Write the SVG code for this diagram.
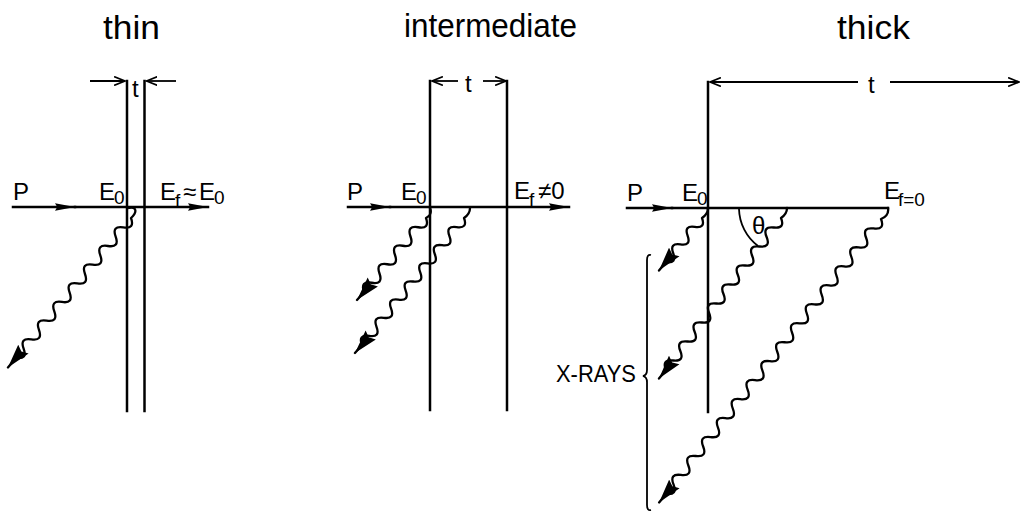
<svg xmlns="http://www.w3.org/2000/svg" width="1021" height="513" viewBox="0 0 1021 513">
<style>
.bg{fill:#fff}
.ln{stroke:#000;stroke-width:2.5;fill:none;stroke-linecap:square}
.dim{stroke:#000;stroke-width:1.8;fill:none}
.wv{stroke:#000;stroke-width:2.3;fill:none;stroke-linecap:round;stroke-linejoin:round}
.ttl{font-family:"Liberation Sans Narrow","Liberation Sans",Arial,sans-serif;font-size:34px;fill:#000}
.lb{font-family:"Liberation Sans Narrow","Liberation Sans",Arial,sans-serif;font-size:24px;fill:#000}
.sb{font-family:"Liberation Sans Narrow","Liberation Sans",Arial,sans-serif;font-size:19px;fill:#000}
.tt{font-family:"Liberation Sans Narrow","Liberation Sans",Arial,sans-serif;font-size:24px;fill:#000}
</style>
<defs>
<marker id="ah" markerUnits="userSpaceOnUse" markerWidth="20" markerHeight="10" refX="18" refY="4" orient="auto" viewBox="0 0 18 8"><path d="M0,0.6 L18,4 L0,7.4 L2,4 z" fill="#000"/></marker>
<marker id="wa" markerUnits="userSpaceOnUse" markerWidth="24" markerHeight="14" refX="23" refY="6.5" orient="auto" viewBox="0 0 23 13"><path d="M0,0 L23,6.5 L0,13 L3,6.5 z" fill="#000"/></marker>
<marker id="oa" markerUnits="userSpaceOnUse" markerWidth="12" markerHeight="10" refX="10" refY="4" orient="auto" viewBox="0 0 11 8"><path d="M0,0 L10,4 L0,8" fill="none" stroke="#000" stroke-width="1.6"/></marker>
</defs>
<rect class="bg" x="0" y="0" width="1021" height="513"/>

<g id="titles">
<text class="ttl" x="103" y="39" textLength="57" lengthAdjust="spacingAndGlyphs">thin</text>
<text class="ttl" x="404" y="37" textLength="173" lengthAdjust="spacingAndGlyphs">intermediate</text>
<text class="ttl" x="837" y="39" textLength="73" lengthAdjust="spacingAndGlyphs">thick</text>
</g>

<g id="thin">
<line class="ln" x1="127" y1="81" x2="127" y2="411"/>
<line class="ln" x1="144.5" y1="81" x2="144.5" y2="411"/>
<text class="tt" x="132" y="97">t</text>
<text class="lb" x="13" y="200">P</text>
<text class="lb" x="99" y="200">E</text><text class="sb" x="114" y="204">0</text>
<text class="lb" x="160" y="200">E</text><text class="sb" x="175" y="207">f</text>
<text class="lb" x="183" y="200">≈</text>
<text class="lb" x="199" y="200">E</text><text class="sb" x="214" y="204">0</text>
</g>

<g id="intermediate">
<line class="ln" x1="430" y1="81" x2="430" y2="410"/>
<line class="ln" x1="507" y1="81" x2="507" y2="410"/>
<text class="tt" x="465" y="92">t</text>
<text class="lb" x="347" y="200">P</text>
<text class="lb" x="401" y="200">E</text><text class="sb" x="416" y="204">0</text>
<text class="lb" x="514" y="199">E</text><text class="sb" x="529" y="206">f</text>
<text class="lb" x="538" y="199">≠0</text>
</g>

<g id="thick">
<line class="ln" x1="708" y1="82" x2="708" y2="412"/>
<text class="tt" x="868" y="93">t</text>
<text class="lb" x="627" y="201">P</text>
<text class="lb" x="682" y="201">E</text><text class="sb" x="697" y="205">0</text>
<text class="lb" x="884" y="199">E</text><text class="sb" x="898" y="206" font-size="21">f=0</text>
<text class="tt" x="752" y="234" font-size="20">θ</text>
</g>

<g id="xrays">
<text class="lb" x="556" y="382" textLength="80" lengthAdjust="spacingAndGlyphs">X-RAYS</text>
<path class="dim" d="M651,255 Q647,254 647,260 L647,370 Q647,375 643,376 Q647,377 647,382 L647,505 Q647,511 651,510"/>
</g>

<g id="connectors">
<line class="dim" x1="90" y1="81" x2="125" y2="81" marker-end="url(#oa)"/>
<line class="dim" x1="176" y1="81" x2="146.5" y2="81" marker-end="url(#oa)"/>
<line class="dim" x1="458" y1="81" x2="432" y2="81" marker-end="url(#oa)"/>
<line class="dim" x1="483" y1="81" x2="506" y2="81" marker-end="url(#oa)"/>
<line class="dim" x1="858" y1="82" x2="710" y2="82" marker-end="url(#oa)"/>
<line class="dim" x1="890" y1="82" x2="1019" y2="82" marker-end="url(#oa)"/>
<line class="ln" x1="13" y1="207" x2="75" y2="207" marker-end="url(#ah)"/>
<line class="ln" x1="75" y1="207" x2="208" y2="207" marker-end="url(#ah)"/>
<line class="ln" x1="348" y1="207" x2="390" y2="207" marker-end="url(#ah)"/>
<line class="ln" x1="390" y1="207" x2="569" y2="207" marker-end="url(#ah)"/>
<line class="ln" x1="627" y1="208" x2="672" y2="208" marker-end="url(#ah)"/>
<line class="ln" x1="672" y1="208" x2="888" y2="208"/>
<path class="dim" d="M739,209 A48,48 0 0 0 758,246"/>
<path class="wv" marker-end="url(#wa)" d="M129,208 C136,206 138,212 131,218 q4.1,11.2 -7.67,9.33 t-7.67,9.33 t-7.67,9.33 t-7.67,9.33 t-7.67,9.33 t-7.67,9.33 t-7.67,9.33 t-7.67,9.33 t-7.67,9.33 t-7.67,9.33 t-7.67,9.33 t-7.67,9.33 t-7.67,9.33 t-7.67,9.33 t-7.67,9.33 l-8,9.5"/>
<path class="wv" marker-end="url(#wa)" d="M430,208 C432,212 430,216 426,218 q4,11.2 -7.75,9.25 t-7.75,9.25 t-7.75,9.25 t-7.75,9.25 t-7.75,9.25 t-7.75,9.25 t-7.75,9.25 t-7.75,9.25 l-7,8"/>
<path class="wv" marker-end="url(#wa)" d="M470,208 C470,213 467,216 464,218 q4.06,10.7 -7.29,9.07 t-7.29,9.07 t-7.29,9.07 t-7.29,9.07 t-7.29,9.07 t-7.29,9.07 t-7.29,9.07 t-7.29,9.07 t-7.29,9.07 t-7.29,9.07 t-7.29,9.07 t-7.29,9.07 t-7.29,9.07 t-7.29,9.07 l-7,8"/>
<path class="wv" marker-end="url(#wa)" d="M708,208 C708,213 705,216 702,218 q3.88,10.5 -7.2,8.8 t-7.2,8.8 t-7.2,8.8 t-7.2,8.8 t-7.2,8.8 l-7,8.5"/>
<path class="wv" marker-end="url(#wa)" d="M787,208 C787,213 784,216 781,218 q4.48,10.86 -7.19,9.5 t-7.19,9.5 t-7.19,9.5 t-7.19,9.5 t-7.19,9.5 t-7.19,9.5 t-7.19,9.5 t-7.19,9.5 t-7.19,9.5 t-7.19,9.5 t-7.19,9.5 t-7.19,9.5 t-7.19,9.5 t-7.19,9.5 t-7.19,9.5 t-7.19,9.5 l-7,8.5"/>
<path class="wv" marker-end="url(#wa)" d="M888,208 C889,214 886,217 881,219 q4.35,11.04 -7.41,9.48 t-7.41,9.48 t-7.41,9.48 t-7.41,9.48 t-7.41,9.48 t-7.41,9.48 t-7.41,9.48 t-7.41,9.48 t-7.41,9.48 t-7.41,9.48 t-7.41,9.48 t-7.41,9.48 t-7.41,9.48 t-7.41,9.48 t-7.41,9.48 t-7.41,9.48 t-7.41,9.48 t-7.41,9.48 t-7.41,9.48 t-7.41,9.48 t-7.41,9.48 t-7.41,9.48 t-7.41,9.48 t-7.41,9.48 t-7.41,9.48 t-7.41,9.48 t-7.41,9.48 t-7.41,9.48 t-7.41,9.48 l-7,8.5"/>
</g>
</svg>
